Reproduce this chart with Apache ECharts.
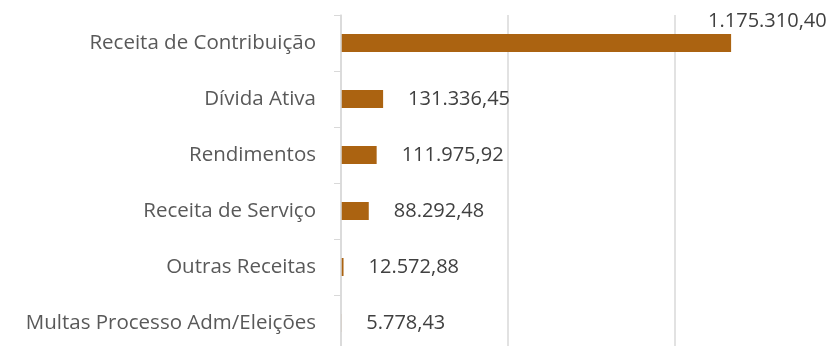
<!DOCTYPE html>
<html>
<head>
<meta charset="utf-8">
<script src="https://cdn.jsdelivr.net/npm/echarts@6/dist/echarts.min.js"></script>
<style>
  html, body { margin: 0; padding: 0; background: #ffffff; }
  #chart { width: 836px; height: 346px; }
</style>
</head>
<body>
<div id="chart"></div>
<script>
// Receitas por origem (R$)
const categories = [
  'Receita de Contribuição',
  'Dívida Ativa',
  'Rendimentos',
  'Receita de Serviço',
  'Outras Receitas',
  'Multas Processo Adm/Eleições'
];
const values = [1175310.40, 131336.45, 111975.92, 88292.48, 12572.88, 5778.43];

// Brazilian number format: 1.234.567,89
function formatBR(v) {
  const parts = v.toFixed(2).split('.');
  const intPart = parts[0].replace(/\B(?=(\d{3})+(?!\d))/g, '.');
  return intPart + ',' + parts[1];
}

const barColor = '#AB6311';
const gridColor = '#D9D9D9';

const chart = echarts.init(document.getElementById('chart'), null, { renderer: 'canvas' });

const seriesData = values.map(function (v, i) {
  const item = { value: v };
  if (i === 0) {
    // the longest bar carries its label above its end
    item.label = { position: 'right', distance: 0, offset: [-23, -22] };
  }
  return item;
});

chart.setOption({
  animation: false,
  backgroundColor: '#ffffff',
  // plot area runs slightly past the right and bottom edges of the canvas
  grid: {
    left: 341, top: 15, width: 500, height: 336,
    outerBoundsMode: 'none', containLabel: false
  },
  xAxis: {
    type: 'value',
    min: 5000,
    max: 1505000,
    interval: 500000,
    axisLine: { show: false },
    axisTick: { show: false },
    axisLabel: { show: false },
    splitLine: { show: true, lineStyle: { color: gridColor, width: 1.5 } }
  },
  yAxis: {
    type: 'category',
    data: categories,
    inverse: true,
    z: 3, // category axis line sits on top of the bar bases
    axisLine: { show: true, lineStyle: { color: gridColor, width: 1.5 } },
    axisTick: { show: true, length: 7, lineStyle: { color: gridColor, width: 1 } },
    axisLabel: {
      margin: 25,
      color: '#595959',
      fontFamily: 'Open Sans',
      fontSize: 20.5
    }
  },
  series: [{
    type: 'bar',
    data: seriesData,
    barWidth: 18,
    clip: true,
    itemStyle: { color: barColor },
    label: {
      show: true,
      position: 'right',
      distance: 25,
      color: '#404040',
      fontFamily: 'Open Sans',
      fontSize: 20,
      formatter: function (p) { return formatBR(p.value); }
    }
  }]
});
</script>
</body>
</html>
